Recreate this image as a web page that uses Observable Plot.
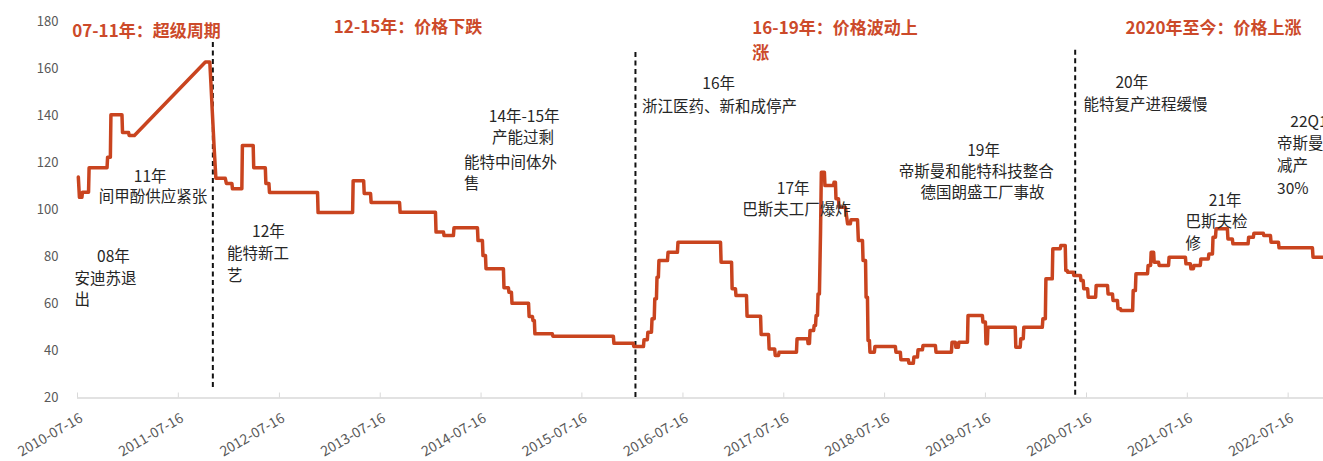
<!DOCTYPE html>
<html>
<head>
<meta charset="utf-8">
<script src="https://cdn.jsdelivr.net/npm/d3@7"></script>
<script src="https://cdn.jsdelivr.net/npm/@observablehq/plot@0.6"></script>
<style>
  html, body { margin: 0; padding: 0; background: #fff; overflow: hidden; }
  #chart svg { display: block; }
</style>
</head>
<body>
<div id="chart"></div>
<script>
// Price series (step changes recorded as pairs of dates)
const priceDates = [
  "2010-07-19","2010-07-23","2010-08-01","2010-08-03","2010-08-25","2010-08-27","2010-10-31","2010-11-02",
  "2010-11-12","2010-11-14","2010-12-24","2010-12-26","2011-01-17","2011-01-19","2011-02-07","2011-10-22",
  "2011-11-07","2011-11-11","2011-11-16","2011-11-22","2011-11-29","2012-01-02","2012-01-06","2012-01-26",
  "2012-01-28","2012-03-02","2012-03-04","2012-04-12","2012-04-14","2012-05-26","2012-05-28","2012-06-08",
  "2012-06-10","2012-12-01","2012-12-03","2013-04-07","2013-04-09","2013-05-17","2013-05-19","2013-06-11",
  "2013-06-13","2013-09-24","2013-09-26","2014-02-01","2014-02-03","2014-03-02","2014-03-04","2014-04-07",
  "2014-04-09","2014-07-03","2014-07-05","2014-07-21","2014-07-23","2014-08-01","2014-08-03","2014-10-05",
  "2014-10-07","2014-10-23","2014-10-25","2014-11-03","2014-11-05","2015-01-04","2015-01-06","2015-01-18",
  "2015-01-20","2015-01-25","2015-01-27","2015-03-31","2015-04-02","2015-11-07","2015-11-09","2016-01-18",
  "2016-01-20","2016-02-24","2016-02-26","2016-03-09","2016-03-11","2016-03-24","2016-03-26","2016-04-03",
  "2016-04-05","2016-04-11","2016-04-13","2016-04-18","2016-04-20","2016-05-21","2016-05-23","2016-06-26",
  "2016-06-28","2016-11-29","2016-12-01","2017-01-08","2017-01-10","2017-01-22","2017-01-24","2017-03-03",
  "2017-03-05","2017-04-23","2017-04-25","2017-05-22","2017-05-24","2017-06-13","2017-06-15","2017-06-27",
  "2017-06-29","2017-08-31","2017-09-02","2017-10-10","2017-10-12","2017-10-17","2017-10-19","2017-11-01",
  "2017-11-03","2017-11-08","2017-11-10","2017-11-15","2017-11-17","2017-11-22","2017-11-26","2017-11-29",
  "2017-12-10","2017-12-12","2018-01-12","2018-01-14","2018-01-19","2018-01-21","2018-01-30","2018-02-01",
  "2018-02-24","2018-03-04","2018-03-14","2018-03-16","2018-04-09","2018-04-12","2018-04-27","2018-04-29",
  "2018-05-08","2018-05-10","2018-05-15","2018-05-17","2018-05-22","2018-05-24","2018-06-09","2018-06-11",
  "2018-08-24","2018-08-26","2018-09-11","2018-09-13","2018-10-10","2018-10-12","2018-10-28","2018-10-30",
  "2018-11-12","2018-11-14","2018-11-30","2018-12-02","2019-01-16","2019-01-18","2019-03-15","2019-03-17",
  "2019-03-29","2019-03-31","2019-04-09","2019-04-11","2019-05-12","2019-05-14","2019-07-05","2019-07-07",
  "2019-07-16","2019-07-18","2019-07-23","2019-07-25","2019-11-01","2019-11-03","2019-11-19","2019-11-21",
  "2019-11-30","2019-12-02","2020-02-07","2020-02-09","2020-02-18","2020-02-20","2020-03-14","2020-03-16",
  "2020-04-12","2020-04-14","2020-04-30","2020-05-02","2020-05-07","2020-05-09","2020-05-29","2020-05-31",
  "2020-06-24","2020-06-26","2020-07-04","2020-07-06","2020-07-20","2020-07-22","2020-08-18","2020-08-20",
  "2020-09-30","2020-10-02","2020-10-18","2020-10-20","2020-11-05","2020-11-07","2020-11-16","2020-11-18",
  "2020-12-30","2021-01-01","2021-01-09","2021-01-11","2021-02-22","2021-02-24","2021-03-05","2021-03-07",
  "2021-03-16","2021-03-18","2021-04-03","2021-04-05","2021-05-09","2021-05-11","2021-07-09","2021-07-11",
  "2021-07-27","2021-07-29","2021-08-07","2021-08-09","2021-09-01","2021-09-03","2021-09-30","2021-10-02",
  "2021-10-15","2021-10-17","2021-10-26","2021-10-28","2021-12-08","2021-12-10","2021-12-26","2021-12-28",
  "2022-02-21","2022-02-23","2022-03-12","2022-03-14","2022-04-17","2022-04-19","2022-05-13","2022-05-15",
  "2022-06-11","2022-06-13","2022-10-12","2022-10-14","2022-11-20"
];
const priceValues = [
  114,105.4,105.4,107.6,107.6,118,118,122.5,
  122.5,140.5,140.5,133,133,131.7,131.7,163,
  163,154,142,128,113.5,113.5,111.3,111.3,
  109,109,127.5,127.5,118,118,111.3,111.3,
  107.5,107.5,98.9,98.9,112.5,112.5,107,107,
  103.2,103.2,99,99,90.6,90.6,89.1,89.1,
  92.4,92.4,87,87,80.6,80.6,75,75,
  66.9,66.9,65,65,60.3,60.3,54.7,54.7,
  53,53,47.3,47.3,46.3,46.3,43.3,43.3,
  41.9,41.9,44.8,44.8,48,48,53.7,53.7,
  62.2,62.2,71.4,71.4,78.5,78.5,82,82,
  86.3,86.3,77.8,77.8,66.5,66.5,63.6,63.6,
  54.8,54.8,47,47,40.9,40.9,38.1,38.1,
  39.5,39.5,45.2,45.2,43.2,43.2,48.7,48.7,
  50.9,50.9,55.1,55.1,64.3,64.3,90,116.1,
  116.1,110.4,110.4,111.8,111.8,104.8,104.8,101.2,
  101.2,94.1,94.1,95.8,95.8,87,87,78.5,
  78.5,62.9,62.9,44.5,44.5,39.5,39.5,41.9,
  41.9,39.5,39.5,36.3,36.3,34.8,34.8,37.4,
  37.4,40.5,40.5,42.3,42.3,39.5,39.5,43.7,
  43.7,41.6,41.6,43.7,43.7,55.1,55.1,52.3,
  52.3,43.1,43.1,50.1,50.1,41.6,41.6,45.2,
  45.2,50.1,50.1,53.7,53.7,70.7,70.7,83.5,
  83.5,84.9,84.9,74.3,74.3,73.5,73.5,72.1,
  72.1,70,70,66.5,66.5,62.9,62.9,67.9,
  67.9,64.3,64.3,61.5,61.5,58,58,57.2,
  57.2,65.7,65.7,72.9,72.9,76.4,76.4,82,
  82,77.8,77.8,76.4,76.4,79.9,79.9,77.1,
  77.1,75,75,76.4,76.4,79.2,79.2,81.3,
  81.3,88.4,88.4,92,92,87.7,87.7,85.6,
  85.6,88.4,88.4,90.1,90.1,89.1,89.1,86.3,
  86.3,83.9,83.9,79.9,79.9
];

// Axis ticks
const yearTicks = [
  "2010-07-16","2011-07-16","2012-07-16","2013-07-16","2014-07-16","2015-07-16","2016-07-16",
  "2017-07-16","2018-07-16","2019-07-16","2020-07-16","2021-07-16","2022-07-16"
];
const yTicks = [20, 40, 60, 80, 100, 120, 140, 160, 180];

// Period dividers
const dividerDates = ["2011-11-18", "2016-01-26", "2020-06-05"];
const dividerTops = [171.3, 167, 168];
const dividerBottoms = [24.5, 20, 21];

// Period headings
const headingTexts = ["07-11年：超级周期", "12-15年：价格下跌", "16-19年：价格波动上", "涨", "2020年至今：价格上涨"];
const headingDates = ["2010-06-27", "2013-01-29", "2017-03-24", "2017-03-24", "2020-12-04"];
const headingValues = [176.1, 177.8, 177.1, 166.5, 177.4];

// Event notes, one entry per text line
const noteTexts = [
  "11年", "间甲酚供应紧张",
  "08年", "安迪苏退", "出",
  "12年", "能特新工", "艺",
  "14年-15年", "产能过剩", "能特中间体外", "售",
  "16年", "浙江医药、新和成停产",
  "17年", "巴斯夫工厂爆炸",
  "19年", "帝斯曼和能特科技整合", "德国朗盛工厂事故",
  "20年", "能特复产进程缓慢",
  "21年", "巴斯夫检", "修",
  "22Q1", "帝斯曼", "减产", "30%"
];
const noteDates = [
  "2011-02-05", "2010-10-01",
  "2010-09-25", "2010-07-05", "2010-07-05",
  "2012-04-08", "2012-01-08", "2012-01-08",
  "2014-08-13", "2014-08-25", "2014-05-15", "2014-05-15",
  "2016-09-24", "2016-02-19",
  "2017-06-21", "2017-02-16",
  "2019-05-11", "2018-09-05", "2018-11-23",
  "2020-10-29", "2020-07-05",
  "2021-10-02", "2021-07-09", "2021-07-09",
  "2022-07-24", "2022-06-06", "2022-06-06", "2022-06-06"
];
const noteValues = [
  114, 105.4,
  79.9, 70.7, 61.5,
  90.6, 81.4, 72.1,
  139.5, 130.7, 120.1, 111.1,
  153.7, 144,
  109, 99.8,
  125.3, 116.1, 107.2,
  154, 144.5,
  104, 94.8, 85.6,
  137.4, 127.9, 118.9, 109
];

const parse = d3.utcParse("%Y-%m-%d");
const prices = priceDates.map((d, i) => ({date: parse(d), value: priceValues[i]}));
const ticks = yearTicks.map(parse);
const dividers = dividerDates.map((d, i) => ({date: parse(d), top: dividerTops[i], bottom: dividerBottoms[i]}));
const headings = headingTexts.map((t, i) => ({text: t, date: parse(headingDates[i]), value: headingValues[i]}));
const notes = noteTexts.map((t, i) => ({text: t, date: parse(noteDates[i]), value: noteValues[i]}));

const fmt = d3.utcFormat("%Y-%m-%d");

const chart = Plot.plot({
  width: 1323,
  height: 461,
  marginTop: 21.5,
  marginBottom: 63.5,
  marginLeft: 77,
  marginRight: 0,
  style: {fontFamily: "'Noto Sans CJK SC', 'Noto Sans', sans-serif", fontSize: "13px", background: "#fff"},
  x: {type: "utc", domain: [parse("2010-07-16"), parse("2022-11-21")], label: null},
  y: {domain: [20, 180], label: null},
  marks: [
    // baseline
    Plot.ruleY([20], {stroke: "#d9d9d9", strokeWidth: 1.5}),
    // small tick marks standing on the baseline
    Plot.axisX(ticks, {tickSize: 5, dy: -5, tickFormat: () => "", stroke: "#d9d9d9", label: null}),
    // rotated date labels
    Plot.axisX(ticks, {tickSize: 0, tickPadding: 19, tickRotate: -30, tickFormat: fmt,
                       fontSize: 14, fill: "#595959", dx: 4, label: null}),
    Plot.axisY(yTicks, {tickSize: 0, tickPadding: 19, fontSize: 13, fill: "#595959", label: null}),
    // dashed period dividers
    Plot.ruleX(dividers, {x: "date", y1: "top", y2: "bottom", stroke: "#111", strokeWidth: 2, strokeDasharray: "5,3.5"}),
    // price line
    Plot.line(prices, {x: "date", y: "value", stroke: "#c9441f", strokeWidth: 3.5}),
    // event notes
    Plot.text(notes, {x: "date", y: "value", text: "text", textAnchor: "start", fontSize: 15.5, fill: "#262626"}),
    // period headings
    Plot.text(headings, {x: "date", y: "value", text: "text", textAnchor: "start", fontSize: 17,
                         fontWeight: "bold", fill: "#cc4a2a"})
  ]
});

document.getElementById("chart").appendChild(chart);
</script>
</body>
</html>
